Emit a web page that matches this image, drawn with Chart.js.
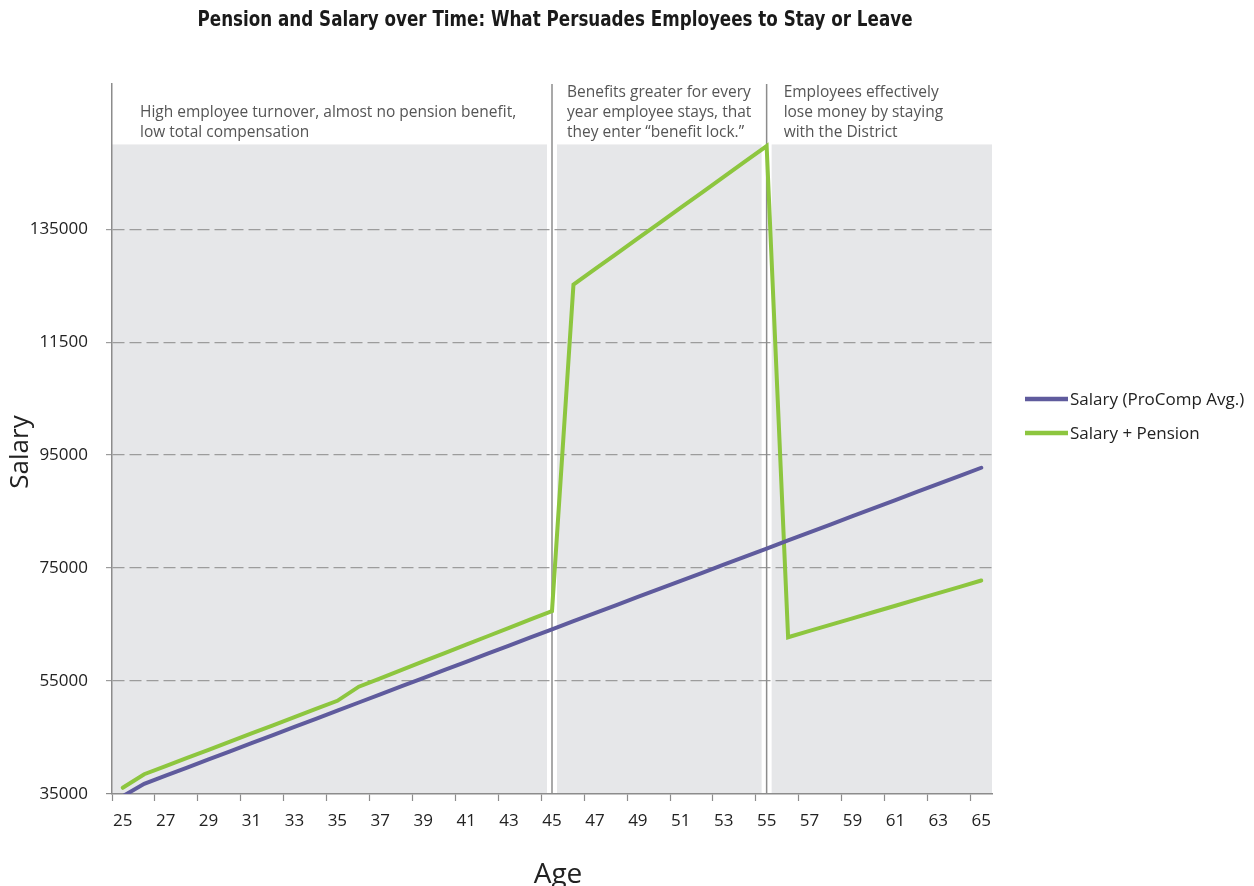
<!DOCTYPE html>
<html>
<head>
<meta charset="utf-8">
<title>Pension and Salary over Time</title>
<script src="https://cdn.jsdelivr.net/npm/chart.js@4.4.1/dist/chart.umd.min.js"></script>
<style>
  html, body { margin: 0; padding: 0; background: #ffffff; }
  canvas { display: block; }
</style>
</head>
<body>
<canvas id="chart" width="1254" height="886"></canvas>
<script>
// Ages along the horizontal axis
const ages = ['25','26','27','28','29','30','31','32','33','34','35','36','37','38','39','40',
  '41','42','43','44','45','46','47','48','49','50','51','52','53','54','55','56','57','58',
  '59','60','61','62','63','64','65'];

// Average ProComp salary by age
const salary = [34600, 36800, 38240, 39680, 41120, 42560, 44000, 45440, 46880, 48320,
  49760, 51200, 52640, 54080, 55520, 56960, 58400, 59840, 61280, 62720,
  64160, 65590, 67020, 68450, 69880, 71310, 72740, 74170, 75600, 77030,
  78460, 79890, 81320, 82750, 84180, 85610, 87040, 88470, 89900, 91330, 92760];

// Salary plus the value of the pension benefit by age
const salaryPlusPension = [36100, 38500, 39940, 41390, 42830, 44280, 45720, 47170, 48610, 50060,
  51500, 54000, 55490, 56980, 58470, 59960, 61440, 62930, 64420, 65910,
  67400, 125200, 127920, 130640, 133370, 136090, 138810, 141530, 144260, 146980,
  149700, 62750, 63870, 64980, 66100, 67220, 68330, 69450, 70570, 71680, 72800];

// Vertical axis ticks and their printed labels
const yTickValues = [35000, 55000, 75000, 95000, 115000, 135000, 155000];
const yTickLabels = ['35000', '55000', '75000', '95000', '11500', '135000', ''];

// Career phases: boundaries (ages) and the top of the shaded panels
const phaseBreaks = ['45', '55'];
const phaseTop = 150000;
const phaseNotes = [
  ['High employee turnover, almost no pension benefit,', 'low total compensation'],
  ['Benefits greater for every', 'year employee stays, that', 'they enter \u201cbenefit lock.\u201d'],
  ['Employees effectively', 'lose money by staying', 'with the District']
];

const seriesNames = ['Salary (ProComp Avg.)', 'Salary + Pension'];
const seriesColors = ['#5f5b9d', '#8dc63f'];

const chartTitle = 'Pension and Salary over Time: What Persuades Employees to Stay or Leave';
const xTitle = 'Age';
const yTitle = 'Salary';

const TEXT_FONT = '"Open Sans", "Noto Sans", sans-serif';
const TITLE_FONT = '"Liberation Sans Narrow", "DejaVu Sans Condensed", "Liberation Sans", sans-serif';
const TITLE_WIDTH = 715;
const AXIS_GREY = '#8c8c8c';
const GRID_GREY = '#9c9c9c';
const PANEL_FILL = '#e6e7e9';

// Shaded phase panels, separated by thin white gaps around each boundary
const phasePanels = {
  id: 'phasePanels',
  beforeDraw(chart) {
    const { ctx, chartArea: ca, scales: { x, y } } = chart;
    const top = y.getPixelForValue(phaseTop);
    const cuts = phaseBreaks.map(a => x.getPixelForValue(ages.indexOf(a)));
    const gap = 5;
    const edges = [ca.left, ...cuts.flatMap(c => [c - gap, c + gap]), ca.right];
    ctx.save();
    ctx.fillStyle = PANEL_FILL;
    for (let i = 0; i < edges.length; i += 2) {
      ctx.fillRect(edges[i], top, edges[i + 1] - edges[i], ca.bottom - top);
    }
    ctx.restore();
  },
  beforeDatasetsDraw(chart) {
    const { ctx, chartArea: ca, scales: { x, y } } = chart;
    const cuts = phaseBreaks.map(a => x.getPixelForValue(ages.indexOf(a)));
    ctx.save();
    ctx.strokeStyle = AXIS_GREY;
    ctx.lineWidth = 1.5;
    cuts.forEach(c => {
      ctx.beginPath();
      ctx.moveTo(c, ca.top);
      ctx.lineTo(c, ca.bottom);
      ctx.stroke();
    });
    // phase captions, bottom-aligned just above the panels
    const top = y.getPixelForValue(phaseTop);
    const starts = [ca.left + 28, cuts[0] + 15, cuts[1] + 17];
    ctx.font = '15.5px ' + TEXT_FONT;
    ctx.fillStyle = '#555555';
    ctx.textAlign = 'left';
    ctx.textBaseline = 'middle';
    phaseNotes.forEach((lines, i) => {
      lines.forEach((line, j) => {
        ctx.fillText(line, starts[i], top - 12 - (lines.length - 1 - j) * 20);
      });
    });
    ctx.restore();
  }
};

// Title, axis titles and legend
const decorations = {
  id: 'decorations',
  afterDraw(chart) {
    const { ctx, chartArea: ca } = chart;
    const midX = (ca.left + ca.right) / 2;
    ctx.save();
    ctx.fillStyle = '#1a1a1a';
    ctx.textAlign = 'center';
    ctx.textBaseline = 'middle';
    ctx.font = 'bold 21px ' + TITLE_FONT;
    // condensed heading: squeeze horizontally to the heading width
    const natural = ctx.measureText(chartTitle).width;
    const sx = Math.min(1, TITLE_WIDTH / natural);
    ctx.save();
    ctx.translate(midX + 3, 21);
    ctx.scale(sx, 1);
    ctx.fillText(chartTitle, 0, 0);
    ctx.restore();

    ctx.fillStyle = '#222222';
    ctx.font = '28px ' + TEXT_FONT;
    ctx.textBaseline = 'alphabetic';
    ctx.fillText(xTitle, midX + 6, 883);

    ctx.save();
    ctx.translate(28, 452);
    ctx.rotate(-Math.PI / 2);
    ctx.font = '26px ' + TEXT_FONT;
    ctx.fillText(yTitle, 0, 0);
    ctx.restore();

    // legend
    const lx = ca.right + 33;
    const rows = [ca.top + 315, ca.top + 349];
    ctx.textAlign = 'left';
    ctx.textBaseline = 'middle';
    ctx.font = '17px ' + TEXT_FONT;
    chart.data.datasets.forEach((ds, i) => {
      ctx.strokeStyle = ds.borderColor;
      ctx.lineWidth = 4.5;
      ctx.lineCap = 'butt';
      ctx.beginPath();
      ctx.moveTo(lx, rows[i]);
      ctx.lineTo(lx + 43, rows[i]);
      ctx.stroke();
      ctx.fillStyle = '#222222';
      ctx.fillText(ds.label, lx + 45, rows[i] + 1);
    });
    ctx.restore();
  }
};

const yGridVisible = v => v > yTickValues[0] && v < yTickValues[yTickValues.length - 1];

new Chart(document.getElementById('chart'), {
  type: 'line',
  data: {
    labels: ages,
    datasets: [
      { label: seriesNames[0], data: salary, borderColor: seriesColors[0], backgroundColor: seriesColors[0] },
      { label: seriesNames[1], data: salaryPlusPension, borderColor: seriesColors[1], backgroundColor: seriesColors[1] }
    ]
  },
  options: {
    responsive: false,
    animation: false,
    events: [],
    layout: { padding: { left: 0, top: 84, right: 262, bottom: 0 } },
    elements: {
      line: { borderWidth: 4, tension: 0, fill: false, borderJoinStyle: 'miter', borderCapStyle: 'round' },
      point: { radius: 0, hoverRadius: 0 }
    },
    plugins: {
      legend: { display: false },
      title: { display: false },
      tooltip: { enabled: false }
    },
    scales: {
      x: {
        type: 'category',
        offset: true,
        grid: {
          offset: true,
          drawOnChartArea: false,
          tickLength: 7,
          tickWidth: 1.2,
          tickColor: c => (c.index % 2 === 0 ? AXIS_GREY : 'rgba(0,0,0,0)')
        },
        border: { color: AXIS_GREY, width: 1.5 },
        ticks: {
          autoSkip: false,
          maxRotation: 0,
          padding: 10,
          color: '#222222',
          font: { family: TEXT_FONT, size: 17 },
          callback: (v, i) => (i % 2 === 0 ? ages[i] : '')
        },
        afterFit: s => { s.height = 92; }
      },
      y: {
        min: 35000,
        max: 160700,
        afterBuildTicks: s => { s.ticks = yTickValues.map(v => ({ value: v })); },
        grid: {
          tickLength: 6,
          lineWidth: 1.2,
          tickWidth: 1.2,
          color: c => (c.tick && yGridVisible(c.tick.value) ? GRID_GREY : 'rgba(0,0,0,0)'),
          tickColor: c => {
            if (!c.tick) return 'rgba(0,0,0,0)';
            if (c.tick.value === yTickValues[0]) return AXIS_GREY;
            return yGridVisible(c.tick.value) ? GRID_GREY : 'rgba(0,0,0,0)';
          }
        },
        border: { color: AXIS_GREY, width: 1.5, dash: [12, 5] },
        ticks: {
          padding: 18,
          color: '#222222',
          font: { family: TEXT_FONT, size: 17 },
          callback: (v) => {
            const i = yTickValues.indexOf(v);
            return i >= 0 ? yTickLabels[i] : '';
          }
        },
        afterFit: s => { s.width = 112; }
      }
    }
  },
  plugins: [phasePanels, decorations]
});
</script>
</body>
</html>
